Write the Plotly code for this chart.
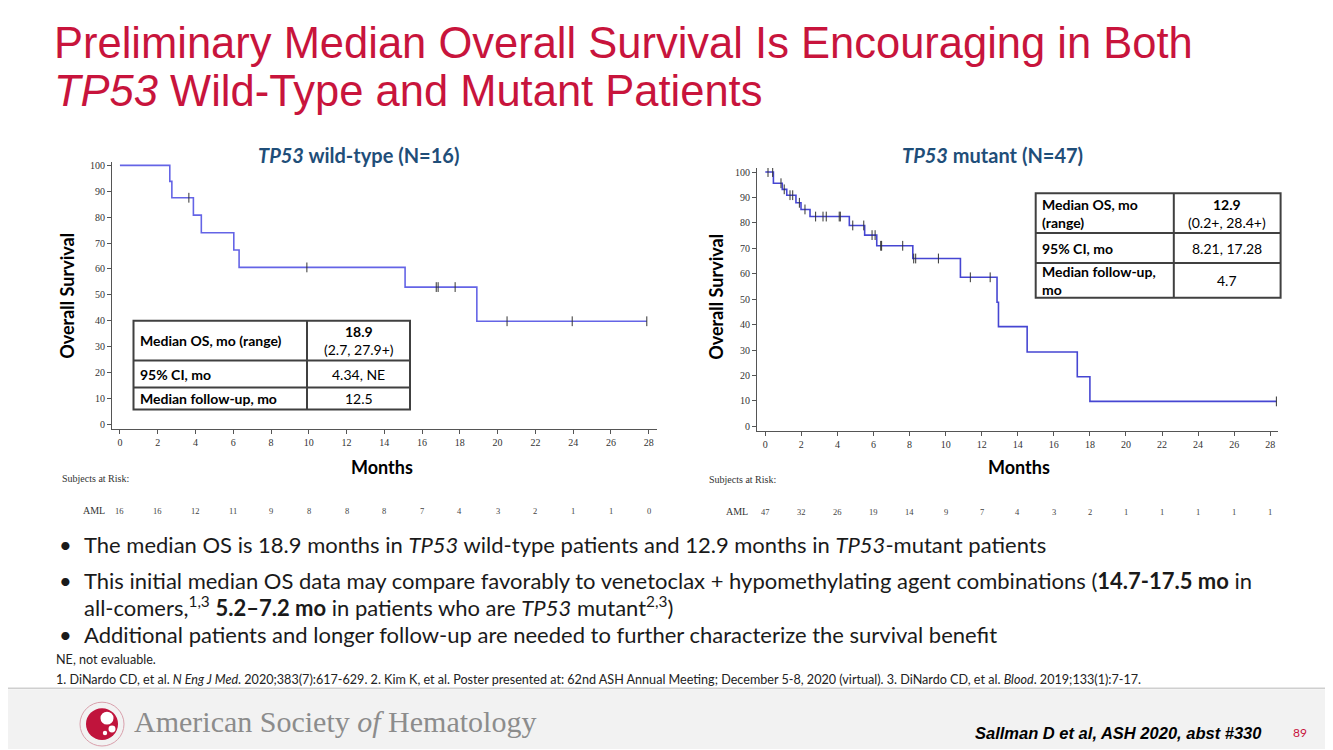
import plotly.graph_objects as go

OFF = 8            # page body margin that the browser adds around the figure
W, H = 1333 - OFF, 750 - OFF

# ---------------- data ----------------
months_ticks = list(range(0, 30, 2))
surv_ticks = list(range(0, 110, 10))

# TP53 wild-type (N=16)
wt_times = [0, 2.64, 2.75, 3.89, 4.31, 6.03, 6.31, 15.1, 18.9, 27.9]
wt_surv = [100, 93.8, 87.5, 80.8, 74.0, 67.3, 60.6, 53.0, 39.8, 39.8]
wt_cens_t = [3.65, 9.9, 16.75, 16.85, 17.75, 20.5, 23.95, 27.9]
wt_cens_s = [87.5, 60.6, 53.0, 53.0, 53.0, 39.8, 39.8, 39.8]
wt_at_risk = [16, 16, 12, 11, 9, 8, 8, 8, 7, 4, 3, 2, 1, 1, 0]

# TP53 mutant (N=47)
mut_times = [0, 0.45, 0.94, 1.19, 1.70, 1.98, 2.48, 4.66, 5.51, 6.18, 8.18,
             10.82, 12.85, 12.93, 14.52, 17.3, 18.0, 28.34]
mut_surv = [100, 95.6, 93.2, 90.9, 87.9, 85.3, 82.5, 79.0, 75.2, 71.0, 66.0,
            58.6, 48.8, 39.2, 29.2, 19.5, 9.8, 9.8]
mut_cens_t = [0.15, 0.41, 0.87, 1.05, 1.37, 1.52, 1.89, 2.2, 2.79, 3.2, 3.38,
              4.1, 4.16, 4.85, 5.46, 5.92, 6.09, 6.4, 6.45, 7.62, 8.23, 8.34,
              9.6, 11.37, 12.47, 28.34]
mut_cens_s = [100, 100, 95.6, 93.2, 90.9, 90.9, 87.9, 85.3, 82.5, 82.5, 82.5,
              82.5, 82.5, 79.0, 79.0, 75.2, 75.2, 71.0, 71.0, 71.0, 66.0, 66.0,
              66.0, 58.6, 58.6, 9.8]
mut_at_risk = [47, 32, 26, 19, 14, 9, 7, 4, 3, 2, 1, 1, 1, 1, 1]

# table texts
wt_table_labels = ["Median OS, mo (range)", "95% CI, mo", "Median follow-up, mo"]
wt_table_values = ["<b>18.9</b><br>(2.7, 27.9+)", "4.34, NE", "12.5"]
mut_table_labels = ["Median OS, mo<br>(range)", "95% CI, mo", "Median follow-up,<br>mo"]
mut_table_values = ["<b>12.9</b><br>(0.2+, 28.4+)", "8.21, 17.28", "4.7"]

title_lines = ["Preliminary Median Overall Survival Is Encouraging in Both",
               "<i>TP53</i> Wild-Type and Mutant Patients"]
bullets = [
    "The median OS is 18.9 months in <i>TP53</i> wild-type patients and 12.9 months in <i>TP53</i>-mutant patients",
    "This initial median OS data may compare favorably to venetoclax + hypomethylating agent combinations (<b>14.7-17.5 mo</b> in",
    "all-comers,<sup>1,3</sup> <b>5.2–7.2 mo</b> in patients who are <i>TP53</i> mutant<sup>2,3</sup>)",
    "Additional patients and longer follow-up are needed to further characterize the survival benefit",
]
footnote1 = "NE, not evaluable."
footnote2 = ("1. DiNardo CD, et al. <i>N Eng J Med</i>. 2020;383(7):617-629. 2. Kim K, et al. Poster presented at: "
             "62nd ASH Annual Meeting; December 5-8, 2020 (virtual). 3. DiNardo CD, et al. <i>Blood</i>. 2019;133(1):7-17.")

# ---------------- helpers ----------------
CAL = "Lato, 'Open Sans', sans-serif"
ARIAL = "'Liberation Sans', Arial, sans-serif"
SERIF = "'Liberation Serif', 'Times New Roman', serif"


def px(x):
    return (x - OFF) / W


def py(y):
    return 1 - (y - OFF) / H


annotations = []
shapes = []


def txt(x, y, text, size, color="#000", family=CAL, xanchor="left", yanchor="middle", xref="paper", **kw):
    annotations.append(dict(
        x=px(x) if xref == "paper" else x, y=py(y), xref=xref, yref="paper",
        text=text, showarrow=False, xanchor=xanchor, yanchor=yanchor,
        font=dict(size=size, color=color, family=family), align=kw.pop("align", "left"), **kw))


def rect(x0, y0, x1, y1, **kw):
    shapes.append(dict(type="rect", xref="paper", yref="paper",
                       x0=px(x0), x1=px(x1), y0=py(y1), y1=py(y0), **kw))


def line(x0, y0, x1, y1, color="#404040", width=1.5):
    shapes.append(dict(type="line", xref="paper", yref="paper",
                       x0=px(x0), x1=px(x1), y0=py(y0), y1=py(y1),
                       line=dict(color=color, width=width)))


def circle(cx, cy, r, **kw):
    shapes.append(dict(type="circle", xref="paper", yref="paper",
                       x0=px(cx - r), x1=px(cx + r), y0=py(cy + r), y1=py(cy - r), **kw))


# ---------------- figure ----------------
fig = go.Figure()

fig.add_trace(go.Scatter(x=wt_times, y=wt_surv, mode="lines", line_shape="hv",
                         line=dict(color="#6464e6", width=1.6), xaxis="x", yaxis="y",
                         hoverinfo="skip"))
fig.add_trace(go.Scatter(x=wt_cens_t, y=wt_cens_s, mode="markers", xaxis="x", yaxis="y",
                         marker=dict(symbol="line-ns", size=7, line=dict(width=1, color="#333")),
                         hoverinfo="skip"))
fig.add_trace(go.Scatter(x=mut_times, y=mut_surv, mode="lines", line_shape="hv",
                         line=dict(color="#4646d2", width=1.6), xaxis="x2", yaxis="y2",
                         hoverinfo="skip"))
fig.add_trace(go.Scatter(x=mut_cens_t, y=mut_cens_s, mode="markers", xaxis="x2", yaxis="y2",
                         marker=dict(symbol="line-ns", size=7, line=dict(width=1, color="#333")),
                         hoverinfo="skip"))

axis_common = dict(showline=True, linecolor="#555", linewidth=1, ticks="outside", ticklen=4,
                   tickcolor="#555", tickwidth=1, showgrid=False, zeroline=False,
                   tickfont=dict(family=SERIF, size=10, color="#333"))

fig.update_layout(
    width=W, height=H, margin=dict(l=0, r=0, t=0, b=0),
    paper_bgcolor="white", plot_bgcolor="rgba(0,0,0,0)", showlegend=False,
    xaxis=dict(domain=[px(112), px(657)], range=[-0.42, 28.44], tickvals=months_ticks,
               anchor="y", **axis_common),
    yaxis=dict(domain=[py(429), py(160.7)], range=[-1.92, 101.27], tickvals=surv_ticks,
               anchor="x", **axis_common),
    xaxis2=dict(domain=[px(757), px(1278)], range=[-0.46, 28.43], tickvals=months_ticks,
                anchor="y2", **axis_common),
    yaxis2=dict(domain=[py(431), py(166.7)], range=[-1.96, 101.57], tickvals=surv_ticks,
                anchor="x2", **axis_common),
)

# footer band
rect(OFF, 690, 1333, 750, fillcolor="#f2f2f2", line=dict(width=0), layer="below")
line(OFF, 689, 1333, 689, color="#cfcfcf", width=1.5)

# title
txt(52, 41, title_lines[0], 43.5, color="#c8143c", family=ARIAL)
txt(52, 89, title_lines[1], 43.5, color="#c8143c", family=ARIAL)

# subplot titles
txt(358, 154, "<b><i>TP53</i> wild-type (N=16)</b>", 20, color="#1f4e79", xanchor="center")
txt(993, 154, "<b><i>TP53</i> mutant (N=47)</b>", 20, color="#1f4e79", xanchor="center")

# y titles
txt(67, 295, "<b>Overall Survival</b>", 18, xanchor="center", textangle=-90)
txt(716, 296, "<b>Overall Survival</b>", 18, xanchor="center", textangle=-90)

# x titles
txt(382, 467, "<b>Months</b>", 18, xanchor="center")
txt(1019, 467, "<b>Months</b>", 18, xanchor="center")

# at risk
txt(60, 478, "Subjects at Risk:", 10, color="#333", family=SERIF)
txt(707, 479, "Subjects at Risk:", 10, color="#333", family=SERIF)
txt(107, 511, "AML", 10, color="#333", family=SERIF, xanchor="right")
txt(750, 512, "AML", 10, color="#333", family=SERIF, xanchor="right")
for m, n in zip(months_ticks, wt_at_risk):
    txt(m, 511, str(n), 8.5, color="#444", family=SERIF, xanchor="center", xref="x")
for m, n in zip(months_ticks, mut_at_risk):
    txt(m, 512, str(n), 8.5, color="#444", family=SERIF, xanchor="center", xref="x2")

# left table
tb_col = "#404040"
lx0, lx1, lxd = 133.5, 410, 307
lys = [320, 360, 387, 409]
rect(lx0, lys[0], lx1, lys[-1], fillcolor="white", line=dict(color=tb_col, width=2))
line(lxd, lys[0], lxd, lys[-1], color=tb_col, width=2)
for yy in lys[1:-1]:
    line(lx0, yy, lx1, yy, color=tb_col, width=2)
for i, (lab, val) in enumerate(zip(wt_table_labels, wt_table_values)):
    yc = (lys[i] + lys[i + 1]) / 2
    txt(lx0 + 4, yc, "<b>" + lab + "</b>", 14)
    txt((lxd + lx1) / 2, yc, val, 14, xanchor="center", align="center")

# right table
rx0, rx1, rxd = 1035.7, 1280.6, 1173.8
rys = [192, 232, 262, 297]
rect(rx0, rys[0], rx1, rys[-1], fillcolor="white", line=dict(color=tb_col, width=2))
line(rxd, rys[0], rxd, rys[-1], color=tb_col, width=2)
for yy in rys[1:-1]:
    line(rx0, yy, rx1, yy, color=tb_col, width=2)
for i, (lab, val) in enumerate(zip(mut_table_labels, mut_table_values)):
    yc = (rys[i] + rys[i + 1]) / 2
    txt(rx0 + 4, yc, "<b>" + lab + "</b>", 14)
    txt((rxd + rx1) / 2, yc, val, 14, xanchor="center", align="center")

# bullets
bullet_y = [545, 581, 607, 635]
for i, (b, yy) in enumerate(zip(bullets, bullet_y)):
    if i != 2:
        txt(57, yy, "•", 22, color="#1a1a1a")
    txt(82, yy, b, 22, color="#1a1a1a")

# footnotes
txt(54, 660, footnote1, 12.6, color="#222")
txt(54, 680, footnote2, 12.6, color="#222")

# ASH logo
circle(102, 725, 22, line=dict(color="#d9a0ac", width=1), fillcolor="rgba(0,0,0,0)")
circle(102, 725, 16, fillcolor="#c0143c", line=dict(width=0))
circle(107, 719, 6.5, fillcolor="white", line=dict(width=0))
circle(112, 730, 3.5, fillcolor="white", line=dict(width=0))
circle(105, 734, 2.2, fillcolor="white", line=dict(width=0))
txt(132, 722, "American Society <i>of</i> Hematology", 30, color="#8c8c8c", family=SERIF)
txt(1264, 734, "<b><i>Sallman D et al, ASH 2020, abst #330</i></b>", 16.5, color="#000",
    family=ARIAL, xanchor="right")
txt(1300, 733, "89", 12, color="#c8143c", family=CAL, xanchor="center")

fig.update_layout(annotations=annotations, shapes=shapes)
fig.write_html("out.html")
